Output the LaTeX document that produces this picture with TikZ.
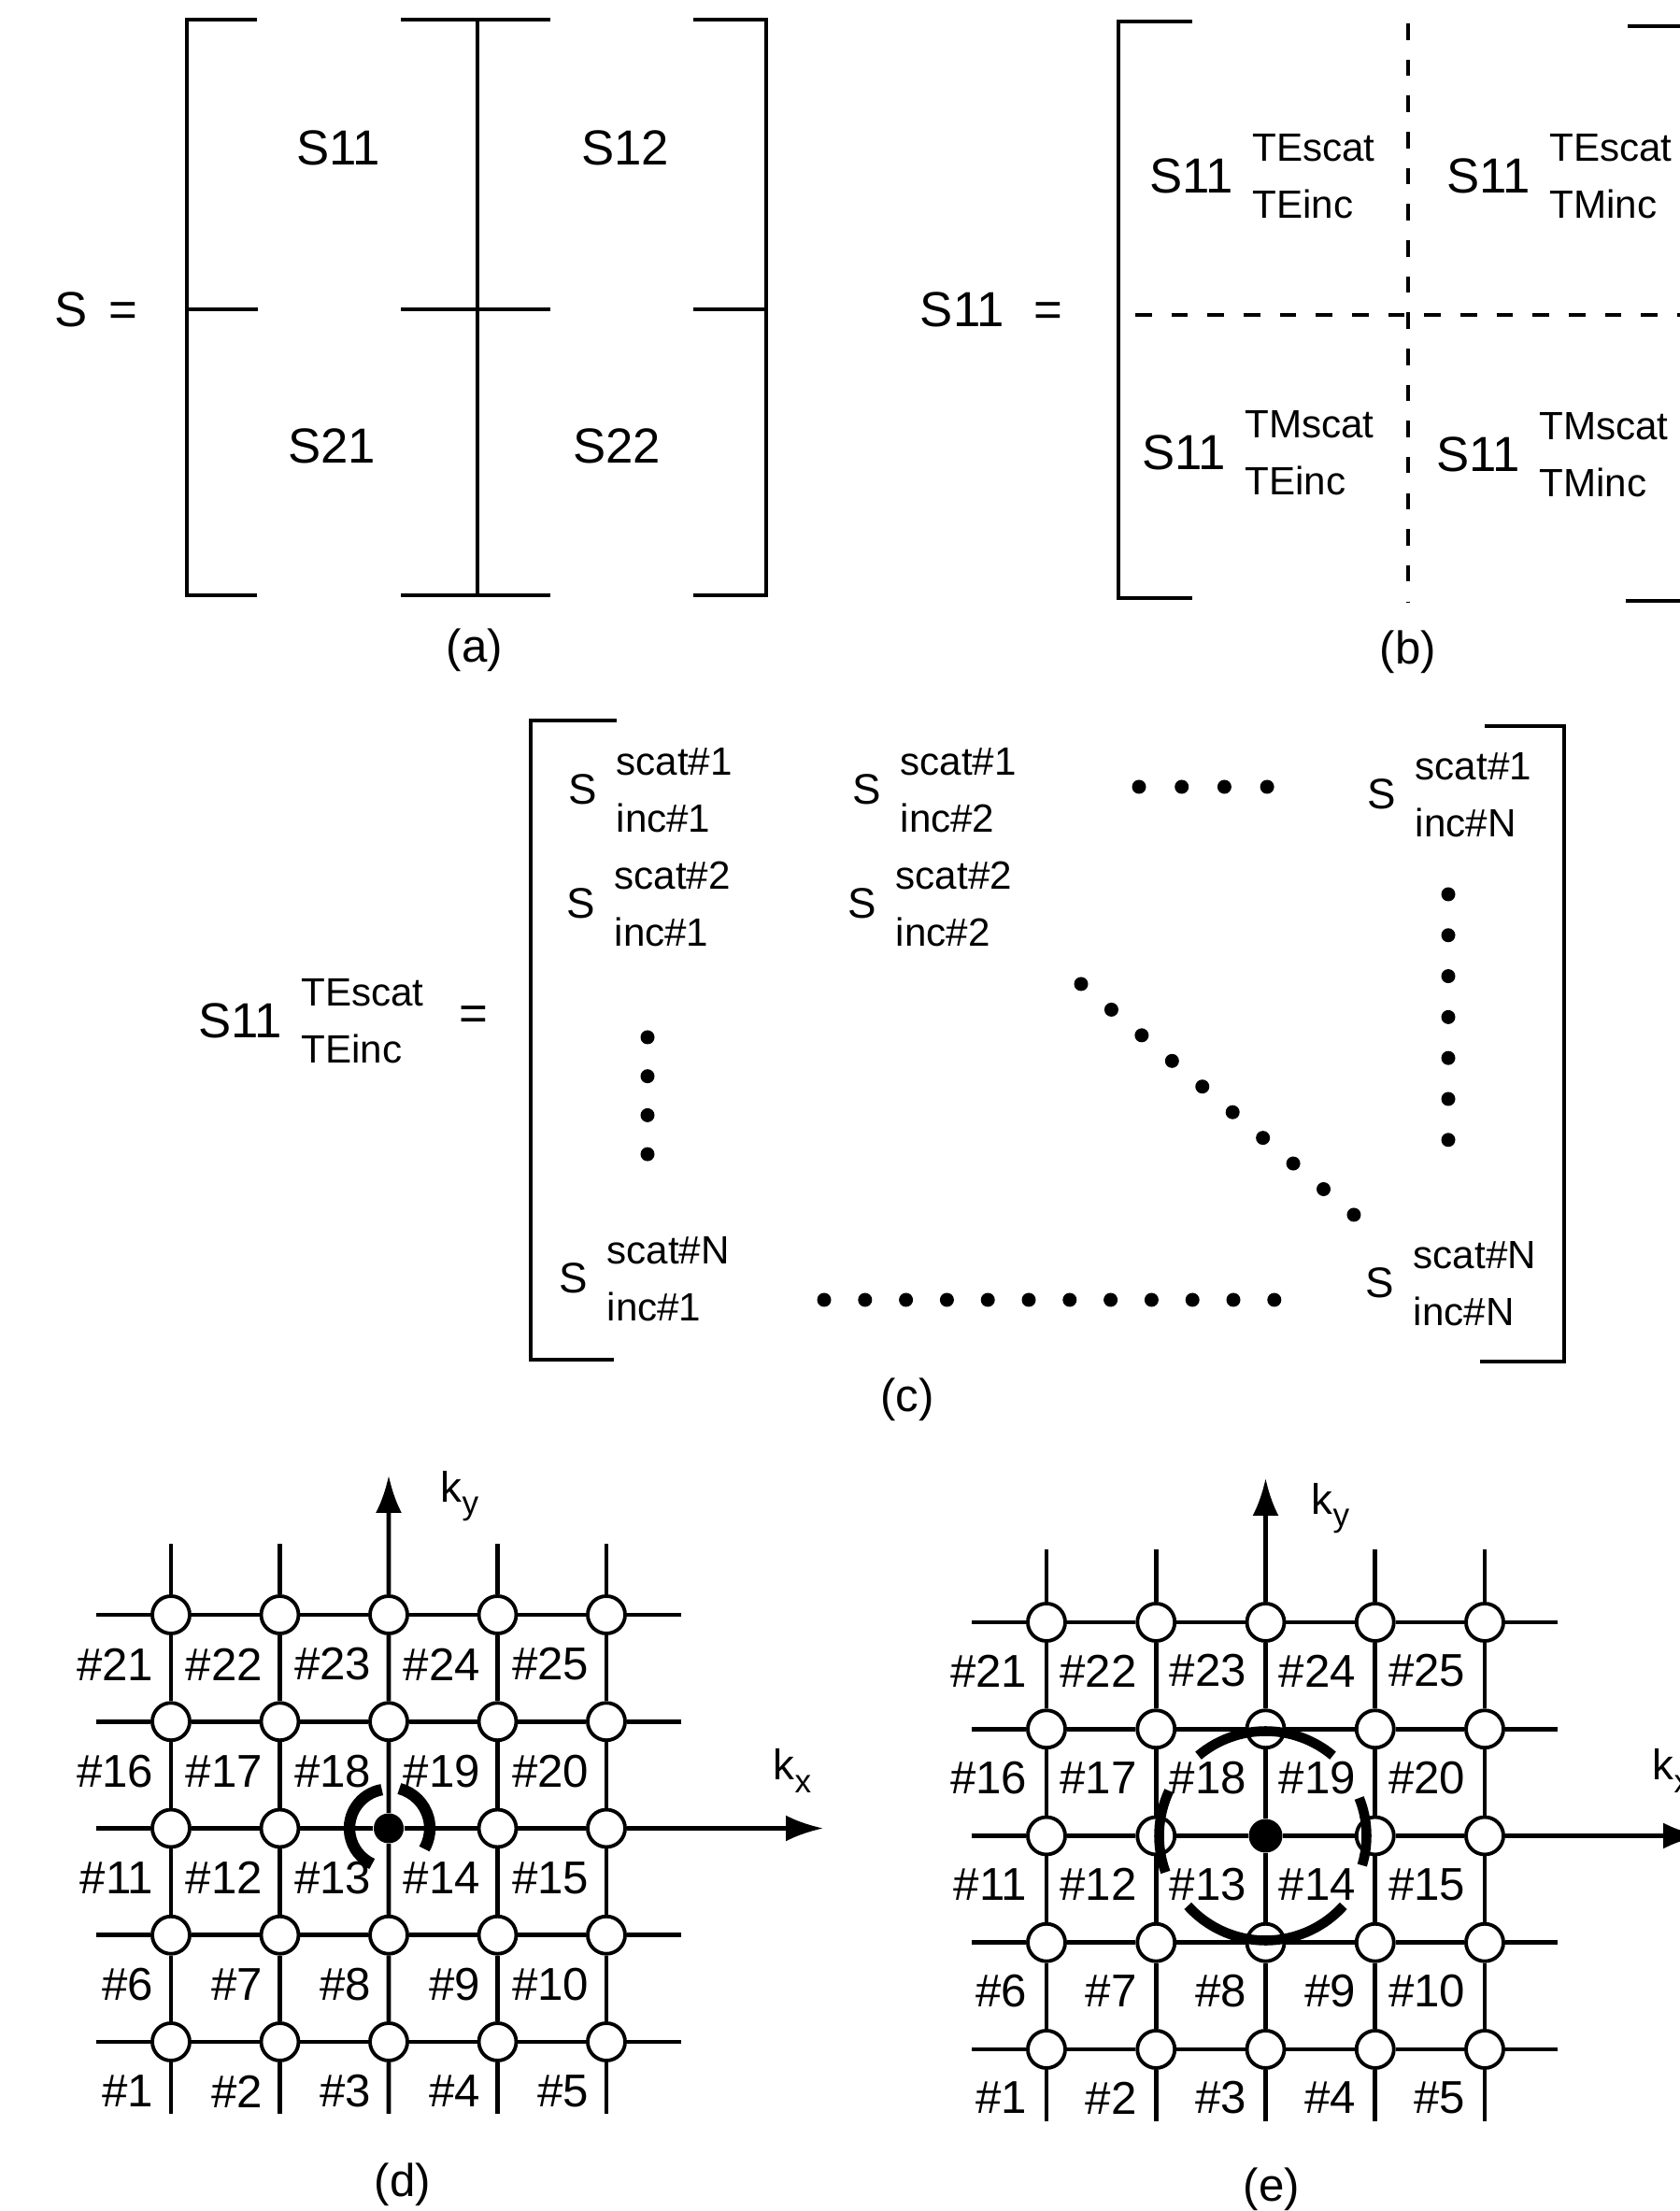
\documentclass[tikz,border=0pt]{standalone}
\usepackage{fontspec}
\setmainfont{Liberation Sans}
\usetikzlibrary{arrows.meta}

\newcommand{\sent}[6]{%
    \node[#3] (#1) at #2 {#4};
    \node[idx, anchor=west] (#1u) at ([shift={(0.19,0.3)}]#1.east) {#5};
    \node[idx, anchor=west] (#1d) at ([shift={(0.19,-0.3)}]#1.east) {#6};
}
\newcommand{\ksub}[2]{#1\raisebox{-0.3em}{\fontsize{10}{12}\selectfont #2}}

\begin{document}
\begin{tikzpicture}[
    biglbl/.style={font=\fontsize{15}{18}\selectfont, inner sep=0pt},
    midlbl/.style={font=\fontsize{13}{16}\selectfont, inner sep=0pt},
    idx/.style={font=\fontsize{12}{14}\selectfont, inner sep=0pt},
    cell/.style={font=\fontsize{14}{16}\selectfont, inner sep=0pt, anchor=east},
    caplbl/.style={font=\fontsize{14}{17}\selectfont, inner sep=0pt},
    klbl/.style={font=\fontsize{13}{16}\selectfont, inner sep=0pt},
    brk/.style={line width=1.4pt},
    cut/.style={line width=1.2pt, dash pattern=on 5pt off 6pt},
    grd/.style={line width=1.3pt},
    axis/.style={grd, -{Latex[length=4mm, width=2.8mm]}},
    knot/.style={circle, draw, line width=1.1pt, fill=white, minimum size=0.4cm, inner sep=0pt},
    hub/.style={circle, fill=black, minimum size=0.32cm, inner sep=0pt},
    ring/.style={line width=3pt},
]
    \path[use as bounding box, fill=white] (0,0) rectangle (17.98,23.66);

    \node[biglbl] (Sa) at (1.03,20.35) {S\hspace{0.45em}=};
    \draw[brk] (2.75,23.45) -- (2.00,23.45) -- (2.00,17.29) -- (2.75,17.29);
    \draw[brk] (5.11,23.45) -- (5.11,17.29);
    \draw[brk] (7.42,23.45) -- (8.20,23.45) -- (8.20,17.29) -- (7.42,17.29);
    \draw[brk] (2.00,20.35) -- (2.76,20.35);
    \draw[brk] (7.42,20.35) -- (8.20,20.35);
    \foreach \y in {23.45, 20.35, 17.29}
        \draw[brk] (4.29,\y) -- (5.89,\y);
    \node[biglbl] (S11) at (3.62,22.08) {S11};
    \node[biglbl] (S12) at (6.69,22.08) {S12};
    \node[biglbl] (S21) at (3.55,18.89) {S21};
    \node[biglbl] (S22) at (6.60,18.89) {S22};
    \node[caplbl] (capa) at (5.08,16.70) {(a)};

    \node[biglbl] (Sb) at (10.61,20.35) {S11\hspace{0.6em}=};
    \draw[brk] (12.76,23.43) -- (11.97,23.43) -- (11.97,17.26) -- (12.76,17.26);
    \draw[brk] (17.42,23.38) -- (18.40,23.38) -- (18.40,17.23) -- (17.40,17.23);
    \draw[cut] (15.07,23.41) -- (15.07,17.21);
    \draw[cut] (12.15,20.29) -- (17.98,20.29);
    \sent{b11}{(12.75,21.78)}{biglbl}{S11}{TEscat}{TEinc}
    \sent{b12}{(15.93,21.78)}{biglbl}{S11}{TEscat}{TMinc}
    \sent{b21}{(12.67,18.82)}{biglbl}{S11}{TMscat}{TEinc}
    \sent{b22}{(15.82,18.80)}{biglbl}{S11}{TMscat}{TMinc}
    \node[caplbl] (capb) at (15.07,16.68) {(b)};

    \sent{c0}{(2.57,12.74)}{biglbl}{S11}{TEscat}{TEinc}
    \node[biglbl] (eqc) at (5.07,12.76) {=};
    \draw[brk] (6.60,15.95) -- (5.68,15.95) -- (5.68,9.11) -- (6.57,9.11);
    \draw[brk] (15.89,15.89) -- (16.74,15.89) -- (16.74,9.09) -- (15.84,9.09);
    \sent{c11}{(6.24,15.21)}{midlbl}{S}{scat\#1}{inc\#1}
    \sent{c12}{(9.28,15.21)}{midlbl}{S}{scat\#1}{inc\#2}
    \sent{c1N}{(14.79,15.16)}{midlbl}{S}{scat\#1}{inc\#N}
    \sent{c21}{(6.22,13.99)}{midlbl}{S}{scat\#2}{inc\#1}
    \sent{c22}{(9.23,13.99)}{midlbl}{S}{scat\#2}{inc\#2}
    \sent{cN1}{(6.14,9.98)}{midlbl}{S}{scat\#N}{inc\#1}
    \sent{cNN}{(14.77,9.93)}{midlbl}{S}{scat\#N}{inc\#N}
    \foreach \k in {0,...,3}
        \fill ({12.19+0.457*\k}, 15.24) circle (0.075);
    \foreach \k in {0,...,3}
        \fill (6.93, {12.56-0.417*\k}) circle (0.075);
    \foreach \k in {0,...,6}
        \fill (15.50, {14.09-0.438*\k}) circle (0.075);
    \foreach \k in {0,...,9}
        \fill ({11.57+0.3244*\k}, {13.13-0.2744*\k}) circle (0.075);
    \foreach \k in {0,...,11}
        \fill ({8.82+0.438*\k}, 9.75) circle (0.075);
    \node[caplbl] (capc) at (9.71,8.68) {(c)};

    \foreach \i in {1,...,5}
        \foreach \j in {1,...,5} {
            \ifnum\i\j=33
                \node[hub] (d\i\j) at ({1.83+1.165*(\i-1)}, {1.81+1.1425*(\j-1)}) {};
            \else
                \node[knot] (d\i\j) at ({1.83+1.165*(\i-1)}, {1.81+1.1425*(\j-1)}) {};
            \fi
        }
    \foreach \j in {1,2,4,5} {
        \pgfmathsetmacro{\yy}{1.81+1.1425*(\j-1)}
        \draw[grd] (1.03,\yy) coordinate (dw\j) -- (d1\j) -- (d2\j) -- (d3\j) -- (d4\j) -- (d5\j) -- (7.29,\yy) coordinate (de\j);
    }
    \draw[axis] (1.03,4.095) coordinate (dw3) -- (d13) -- (d23) -- (d33) -- (d43) -- (d53) -- (8.81,4.095) coordinate (dkx);
    \foreach \i in {1,2,4,5} {
        \pgfmathsetmacro{\xx}{1.83+1.165*(\i-1)}
        \draw[grd] (\xx,1.04) coordinate (ds\i) -- (d\i1) -- (d\i2) -- (d\i3) -- (d\i4) -- (d\i5) -- (\xx,7.14) coordinate (dn\i);
    }
    \draw[axis] (4.16,1.04) coordinate (ds3) -- (d31) -- (d32) -- (d33) -- (d34) -- (d35) -- (4.16,7.87) coordinate (dky);
    \foreach \i in {1,...,5}
        \foreach \j in {1,...,5} {
            \pgfmathtruncatemacro{\n}{5*(\j-1)+\i}
            \node[cell] (dl\n) at ([shift={(-0.18,-0.53)}]d\i\j.center) {\#\n};
        }
    \draw[line width=3.5pt] ([shift={(100:0.42)}]d33.center) arc[start angle=100, end angle=245, radius=0.42];
    \draw[line width=3.5pt] ([shift={(75:0.44)}]d33.center) arc[start angle=75, end angle=-30, radius=0.44];
    \node[klbl] (dkyl) at (4.92,7.65) {\ksub{k}{y}};
    \node[klbl] (dkxl) at (8.48,4.71) {\ksub{k}{x}};
    \node[caplbl] (capd) at (4.31,0.28) {(d)};

    \foreach \i in {1,...,5}
        \foreach \j in {1,...,5} {
            \ifnum\i\j=33
                \node[hub, minimum size=0.36cm] (e\i\j) at ({11.20+1.1725*(\i-1)}, {1.73+1.1425*(\j-1)}) {};
            \else
                \node[knot] (e\i\j) at ({11.20+1.1725*(\i-1)}, {1.73+1.1425*(\j-1)}) {};
            \fi
        }
    \foreach \j in {1,2,4,5} {
        \pgfmathsetmacro{\yy}{1.73+1.1425*(\j-1)}
        \draw[grd] (10.40,\yy) coordinate (ew\j) -- (e1\j) -- (e2\j) -- (e3\j) -- (e4\j) -- (e5\j) -- (16.67,\yy) coordinate (ee\j);
    }
    \draw[axis] (10.40,4.015) coordinate (ew3) -- (e13) -- (e23) -- (e33) -- (e43) -- (e53) -- (18.20,4.015) coordinate (ekx);
    \foreach \i in {1,2,4,5} {
        \pgfmathsetmacro{\xx}{11.20+1.1725*(\i-1)}
        \draw[grd] (\xx,0.96) coordinate (es\i) -- (e\i1) -- (e\i2) -- (e\i3) -- (e\i4) -- (e\i5) -- (\xx,7.08) coordinate (en\i);
    }
    \draw[axis] (13.545,0.96) coordinate (es3) -- (e31) -- (e32) -- (e33) -- (e34) -- (e35) -- (13.545,7.84) coordinate (eky);
    \foreach \i in {1,...,5}
        \foreach \j in {1,...,5} {
            \pgfmathtruncatemacro{\n}{5*(\j-1)+\i}
            \node[cell] (el\n) at ([shift={(-0.2,-0.52)}]e\i\j.center) {\#\n};
        }
    \draw[ring] ([shift={(50:1.12)}]e33.center) arc[start angle=50, end angle=130, radius=1.12];
    \draw[ring] ([shift={(222:1.12)}]e33.center) arc[start angle=222, end angle=318, radius=1.12];
    \draw[ring] ([shift={(155:1.14)}]e33.center) arc[start angle=155, end angle=200, radius=1.14];
    \draw[ring] ([shift={(-17:1.08)}]e33.center) arc[start angle=-17, end angle=22, radius=1.08];
    \node[klbl] (ekyl) at (14.24,7.52) {\ksub{k}{y}};
    \node[klbl] (ekxl) at (17.89,4.71) {\ksub{k}{x}};
    \node[caplbl] (cape) at (13.61,0.23) {(e)};
\end{tikzpicture}
\end{document}
